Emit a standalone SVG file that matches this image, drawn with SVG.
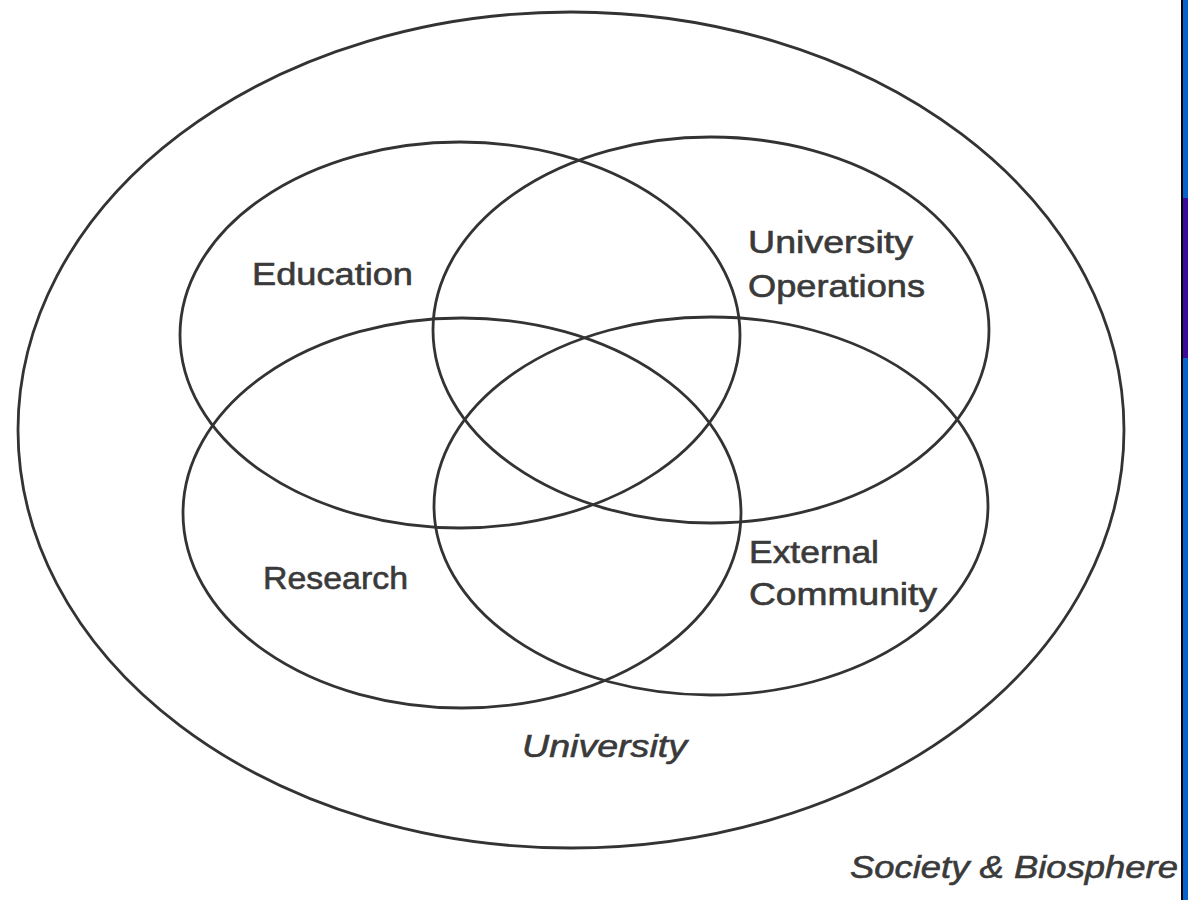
<svg xmlns="http://www.w3.org/2000/svg" width="1188" height="900" viewBox="0 0 1188 900">
<style>
.ring{fill:none;stroke:#333;stroke-width:2.8}
.lbl{font-family:"Liberation Sans",Arial,sans-serif;font-size:31px;fill:#3a3a3a;stroke:#3a3a3a;stroke-width:0.6}
.it{font-family:"Liberation Sans",Arial,sans-serif;font-size:32px;font-style:italic;fill:#3a3a3a;stroke:#3a3a3a;stroke-width:0.6}
</style>
<rect width="1188" height="900" fill="#ffffff"/>
<g id="edge-bar">
<rect x="1181" y="0" width="2" height="900" fill="#000"/>
<rect x="1183" y="0" width="5" height="900" fill="#0863cc"/>
<rect x="1183" y="198" width="5" height="160" fill="#3a0a9e"/>
</g>
<g id="society">
<ellipse class="ring" cx="571" cy="430" rx="553" ry="418"/>
<text class="it" x="850" y="878" textLength="328" lengthAdjust="spacingAndGlyphs">Society &amp; Biosphere</text>
</g>
<g id="university">
<text class="it" x="522" y="757" textLength="165" lengthAdjust="spacingAndGlyphs">University</text>
</g>
<g id="education">
<ellipse class="ring" cx="460" cy="335" rx="280" ry="193"/>
<text class="lbl" x="252" y="285" textLength="161" lengthAdjust="spacingAndGlyphs">Education</text>
</g>
<g id="operations">
<ellipse class="ring" cx="711" cy="330" rx="278" ry="193"/>
<text class="lbl" x="748" y="253" textLength="165" lengthAdjust="spacingAndGlyphs">University</text>
<text class="lbl" x="748" y="297" textLength="177" lengthAdjust="spacingAndGlyphs">Operations</text>
</g>
<g id="research">
<ellipse class="ring" cx="462" cy="513" rx="279" ry="195"/>
<text class="lbl" x="263" y="589" textLength="145" lengthAdjust="spacingAndGlyphs">Research</text>
</g>
<g id="external">
<ellipse class="ring" cx="711" cy="506" rx="277" ry="189"/>
<text class="lbl" x="749" y="563" textLength="130" lengthAdjust="spacingAndGlyphs">External</text>
<text class="lbl" x="749" y="605" textLength="188" lengthAdjust="spacingAndGlyphs">Community</text>
</g>
<g id="connectors"></g>
</svg>
